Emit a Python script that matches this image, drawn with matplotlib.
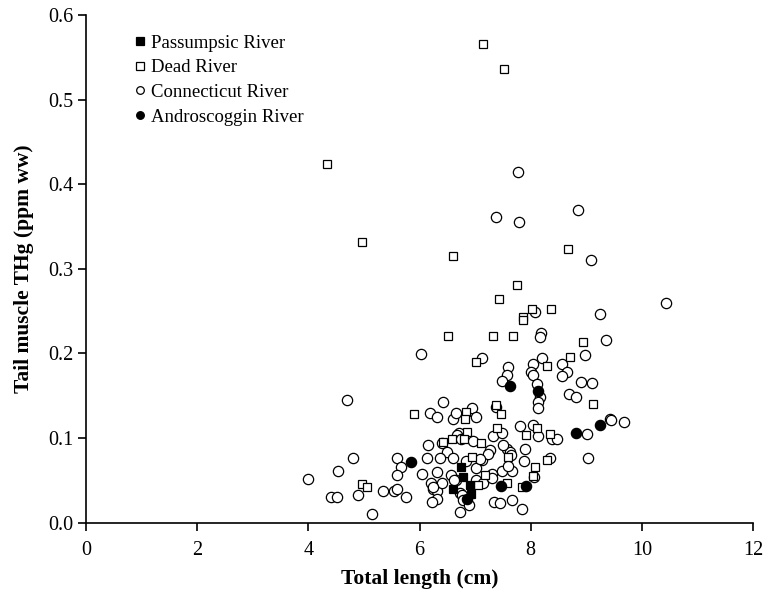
import matplotlib
matplotlib.use("Agg")
import matplotlib.pyplot as plt

# ---- data (total length cm, THg ppm ww) ----
passumpsic_x = [6.74, 6.79, 6.60, 6.90, 6.92]
passumpsic_y = [0.066, 0.0544, 0.040, 0.0450, 0.0335]

dead_x = [4.34, 4.97, 7.15, 7.52, 8.67, 6.61, 7.76, 7.43, 8.02, 8.36, 7.86, 7.87,
          6.51, 7.33, 7.69, 8.95, 7.02, 8.29, 8.71, 9.12, 5.90, 6.83, 6.82, 7.38,
          7.47, 7.39, 6.85, 6.58, 6.80, 6.43, 7.10, 6.94, 7.91, 8.12, 8.35, 8.30,
          8.07, 8.05, 7.57, 7.85, 7.18, 7.05, 4.97, 5.06, 7.59]
dead_y = [0.424, 0.332, 0.566, 0.536, 0.324, 0.315, 0.281, 0.264, 0.252, 0.252, 0.2435, 0.240,
          0.221, 0.2206, 0.2206, 0.213, 0.190, 0.185, 0.196, 0.140, 0.128, 0.1308, 0.1225, 0.1387,
          0.1288, 0.1123, 0.107, 0.0993, 0.0985, 0.0957, 0.0938, 0.0775, 0.104, 0.112, 0.1048, 0.074,
          0.066, 0.055, 0.047, 0.0418, 0.0563, 0.0445, 0.0457, 0.0425, 0.078]

connecticut_x = [7.78, 7.37, 7.79, 8.85, 9.08, 10.43, 8.08, 9.25, 8.18, 8.16, 9.35, 6.03,
                 7.13, 8.21, 8.97, 8.05, 8.57, 8.65, 8.57, 7.60, 7.57, 7.49, 8.00, 8.05,
                 8.11, 8.90, 9.10, 8.69, 8.81, 8.17, 8.14, 8.14, 6.42, 4.70,
                 6.19, 6.31, 6.61, 6.65, 6.95, 7.01, 7.38, 9.42, 9.45, 9.68, 9.01, 9.03,
                 7.33, 7.49, 7.81, 8.05, 8.14, 8.39, 8.48, 6.71, 6.68, 6.83, 6.96, 6.41,
                 6.16, 6.50, 6.37, 6.60, 6.14, 6.83, 7.12, 7.27, 7.24, 7.57, 7.62, 7.65,
                 7.51, 7.90, 7.88, 8.35,
                 4.00, 4.80, 4.53, 4.40, 4.51, 4.89, 5.15, 5.35, 5.55, 5.60, 5.76, 5.59,
                 5.67, 5.59, 6.04, 6.31, 6.21, 6.24, 6.31, 6.31, 6.22, 6.41, 6.56, 6.66,
                 6.72, 6.77, 6.79, 6.89, 6.72, 7.02, 7.14, 7.02, 7.09, 7.31, 7.31, 7.49,
                 7.66, 7.59, 7.34, 7.45, 7.67, 7.84, 8.06, 6.25, 6.62, 6.74]
connecticut_y = [0.414, 0.361, 0.355, 0.370, 0.310, 0.260, 0.249, 0.247, 0.224, 0.219, 0.216, 0.199,
                 0.195, 0.195, 0.198, 0.188, 0.188, 0.178, 0.173, 0.184, 0.175, 0.167, 0.178, 0.175,
                 0.164, 0.166, 0.165, 0.152, 0.148, 0.148, 0.143, 0.135, 0.143, 0.145,
                 0.130, 0.125, 0.123, 0.130, 0.136, 0.125, 0.137, 0.122, 0.121, 0.119, 0.105, 0.077,
                 0.1025, 0.1056, 0.114, 0.115, 0.1025, 0.0993, 0.0993, 0.1064, 0.104, 0.101, 0.0965, 0.0946,
                 0.0918, 0.084, 0.077, 0.077, 0.077, 0.0733, 0.074, 0.086, 0.081, 0.087, 0.083, 0.080,
                 0.0914, 0.087, 0.0733, 0.0768,
                 0.0516, 0.076, 0.0607, 0.0307, 0.0307, 0.0327, 0.0098, 0.038, 0.038, 0.0395, 0.030, 0.0765,
                 0.0658, 0.056, 0.058, 0.060, 0.0473, 0.040, 0.037, 0.0276, 0.024, 0.047, 0.0563, 0.0504,
                 0.035, 0.0323, 0.0268, 0.0213, 0.0126, 0.0504, 0.047, 0.0642, 0.0749, 0.058, 0.0524, 0.061,
                 0.061, 0.067, 0.0248, 0.0229, 0.0268, 0.0162, 0.0544, 0.042, 0.050, 0.0985]

androscoggin_x = [5.84, 6.85, 7.47, 7.91, 7.62, 8.13, 8.82, 9.25]
androscoggin_y = [0.0714, 0.0285, 0.0437, 0.0437, 0.1615, 0.156, 0.106, 0.1158]

x_ticks = [0, 2, 4, 6, 8, 10, 12]
y_ticks = [0.0, 0.1, 0.2, 0.3, 0.4, 0.5, 0.6]
x_label = "Total length (cm)"
y_label = "Tail muscle THg (ppm ww)"

plt.rcParams['font.family'] = ['Liberation Serif', 'DejaVu Serif']

fig = plt.figure(figsize=(7.63, 5.90), dpi=100)
ax = fig.add_axes([86 / 763, 1 - 522.7 / 590, (753 - 86) / 763, (522.7 - 15) / 590])

lw = 0.9
ax.plot(connecticut_x, connecticut_y, linestyle='none', marker='o', ms=7.4,
        mfc='white', mec='black', mew=lw, label='Connecticut River', zorder=3)
ax.plot(dead_x, dead_y, linestyle='none', marker='s', ms=6.0,
        mfc='white', mec='black', mew=lw, label='Dead River', zorder=3)
ax.plot(passumpsic_x, passumpsic_y, linestyle='none', marker='s', ms=6.2,
        mfc='black', mec='black', mew=lw, label='Passumpsic River', zorder=4)
ax.plot(androscoggin_x, androscoggin_y, linestyle='none', marker='o', ms=7.4,
        mfc='black', mec='black', mew=lw, label='Androscoggin River', zorder=4)

ax.set_xlim(0, 12)
ax.set_ylim(0, 0.6)
ax.set_xticks(x_ticks)
ax.set_xticklabels([str(t) for t in x_ticks])
ax.set_yticks(y_ticks)
ax.set_yticklabels([f"{t:.1f}" for t in y_ticks])

for s in ['top', 'right']:
    ax.spines[s].set_visible(False)
for s in ['left', 'bottom']:
    ax.spines[s].set_linewidth(1.2)
ax.tick_params(direction='out', length=6, width=1.2, labelsize=14.5)
ax.tick_params(axis='y', pad=3)
ax.tick_params(axis='x', pad=7.5)

ax.set_xlabel(x_label, fontsize=15.5, fontweight='bold', labelpad=6.5)
ax.set_ylabel(y_label, fontsize=15.5, fontweight='bold', labelpad=10)

handles, labels = ax.get_legend_handles_labels()
order = [2, 1, 0, 3]
leg = ax.legend([handles[i] for i in order], [labels[i] for i in order],
                loc='upper left', bbox_to_anchor=(0.063, 0.976), frameon=False,
                fontsize=13.5, handlelength=0.5, handletextpad=0.35,
                labelspacing=0.4, borderaxespad=0)
for h in leg.legend_handles:
    h.set_markersize(5.5)

fig.savefig("out.png", dpi=100)
